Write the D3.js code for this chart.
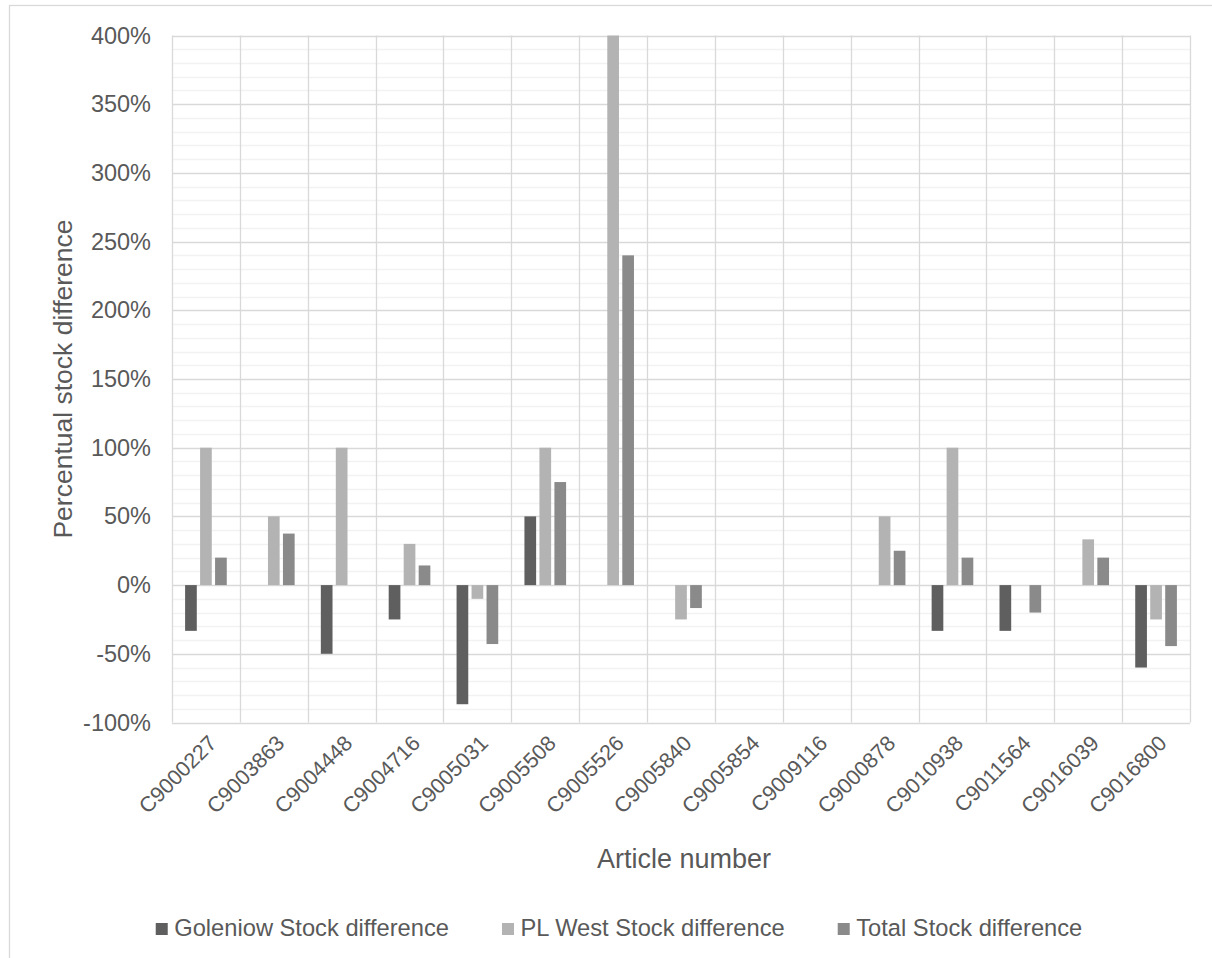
<!DOCTYPE html>
<html>
<head>
<meta charset="utf-8">
<script src="https://cdn.jsdelivr.net/npm/d3@7/dist/d3.min.js"></script>
<style>
  html, body { margin: 0; padding: 0; background: #fff; }
  svg text { font-family: "Liberation Sans", Arial, sans-serif; fill: #595959; }
</style>
</head>
<body>
<svg id="chart" width="1212" height="958"></svg>
<script>
// ---- data ----
const categories = ["C9000227","C9003863","C9004448","C9004716","C9005031","C9005508","C9005526","C9005840","C9005854","C9009116","C9000878","C9010938","C9011564","C9016039","C9016800"];
const seriesNames = ["Goleniow Stock difference","PL West Stock difference","Total Stock difference"];
const goleniow = [-33.3, null, -50, -25, -86.7, 50, null, null, null, null, null, -33.3, -33.3, null, -60];
const plWest   = [100, 50, 100, 30, -10, 100, 400, -25, null, null, 50, 100, null, 33.3, -25];
const total    = [20, 37.5, null, 14.3, -42.9, 75, 240, -16.7, null, null, 25, 20, -20, 20, -44.4];
const yTicks = [-100, -50, 0, 50, 100, 150, 200, 250, 300, 350, 400];
const colors = ["#5f5f5f", "#b3b3b3", "#8a8a8a"];
const seriesValues = [goleniow, plWest, total];

const svg = d3.select("#chart");
const plot = {left: 172, right: 1190, top: 35.5, bottom: 722.5};

// chart area border
svg.append("rect").attr("x", 9.5).attr("y", 5.5).attr("width", 1230).attr("height", 990)
  .attr("fill", "none").attr("stroke", "#d9d9d9").attr("stroke-width", 1.3);

const y = d3.scaleLinear().domain([-100, 400]).range([plot.bottom, plot.top]);
const x0 = d3.scaleBand().domain(categories).range([plot.left, plot.right]).padding(0);
const bw = x0.bandwidth();
const groupW = bw * 0.614;
const x1 = d3.scaleBand().domain(d3.range(3)).range([(bw - groupW) / 2, (bw + groupW) / 2]).paddingInner(0.22);

// minor gridlines
const minor = d3.range(-100, 401, 10).filter(v => v % 50 !== 0);
svg.append("g").selectAll("line").data(minor).join("line")
  .attr("x1", plot.left).attr("x2", plot.right)
  .attr("y1", d => Math.round(y(d)) + 0.5).attr("y2", d => Math.round(y(d)) + 0.5)
  .attr("stroke", "#f2f2f2").attr("stroke-width", 1.3);

// major gridlines
svg.append("g").selectAll("line").data(yTicks).join("line")
  .attr("x1", plot.left).attr("x2", plot.right)
  .attr("y1", d => Math.round(y(d)) + 0.5).attr("y2", d => Math.round(y(d)) + 0.5)
  .attr("stroke", "#d9d9d9").attr("stroke-width", 1.3);

// vertical category lines
const vlines = categories.map(c => x0(c)).concat([plot.right]);
svg.append("g").selectAll("line").data(vlines).join("line")
  .attr("x1", d => Math.round(d) + 0.5).attr("x2", d => Math.round(d) + 0.5)
  .attr("y1", plot.top).attr("y2", plot.bottom)
  .attr("stroke", "#d9d9d9").attr("stroke-width", 1.3);

// bars
const barData = [];
categories.forEach((c, i) => {
  seriesValues.forEach((vals, s) => {
    if (vals[i] !== null && vals[i] !== undefined) barData.push({c, s, v: vals[i]});
  });
});
svg.append("g").selectAll("rect").data(barData).join("rect")
  .attr("x", d => x0(d.c) + x1(d.s))
  .attr("width", x1.bandwidth())
  .attr("y", d => y(Math.max(0, d.v)))
  .attr("height", d => Math.abs(y(d.v) - y(0)))
  .attr("fill", d => colors[d.s]);

// y axis labels
const yAxis = d3.axisLeft(y).tickValues(yTicks).tickFormat(d => d + "%").tickSize(0).tickPadding(21);
const gy = svg.append("g").attr("transform", `translate(${plot.left},0)`).call(yAxis);
gy.select(".domain").remove();
gy.selectAll("text").attr("font-size", "23.5px").attr("fill", "#595959")
  .style("font-family", "'Liberation Sans', Arial, sans-serif");

// x axis labels
const xAxis = d3.axisBottom(x0).tickSize(0).tickPadding(0);
const gx = svg.append("g").attr("transform", `translate(0,${plot.bottom})`).call(xAxis);
gx.select(".domain").remove();
gx.selectAll("text")
  .attr("font-size", "21.5px").attr("fill", "#595959")
  .style("font-family", "'Liberation Sans', Arial, sans-serif")
  .attr("text-anchor", "end")
  .attr("dy", null)
  .attr("y", 0)
  .attr("transform", "translate(12,22) rotate(-45)");

// axis titles
svg.append("text").attr("transform", `translate(72,${(plot.top + plot.bottom) / 2}) rotate(-90)`)
  .attr("text-anchor", "middle").attr("font-size", "26.5px").text("Percentual stock difference");
svg.append("text").attr("x", (plot.left + plot.right) / 2 + 3).attr("y", 868)
  .attr("text-anchor", "middle").attr("font-size", "27px").text("Article number");

// legend
const legend = svg.append("g");
const items = seriesNames.map((name, i) => {
  const g = legend.append("g");
  g.append("rect").attr("x", 0).attr("y", -13).attr("width", 12).attr("height", 12).attr("fill", colors[i]);
  const t = g.append("text").attr("x", 18.5).attr("y", 0).attr("font-size", "23.7px").text(name);
  return {g, w: 18.5 + t.node().getComputedTextLength()};
});
const gap = 53;
const totalW = d3.sum(items, d => d.w) + gap * (items.length - 1);
let lx = 619 - totalW / 2;
items.forEach(it => {
  it.g.attr("transform", `translate(${lx},936)`);
  lx += it.w + gap;
});
</script>
</body>
</html>
